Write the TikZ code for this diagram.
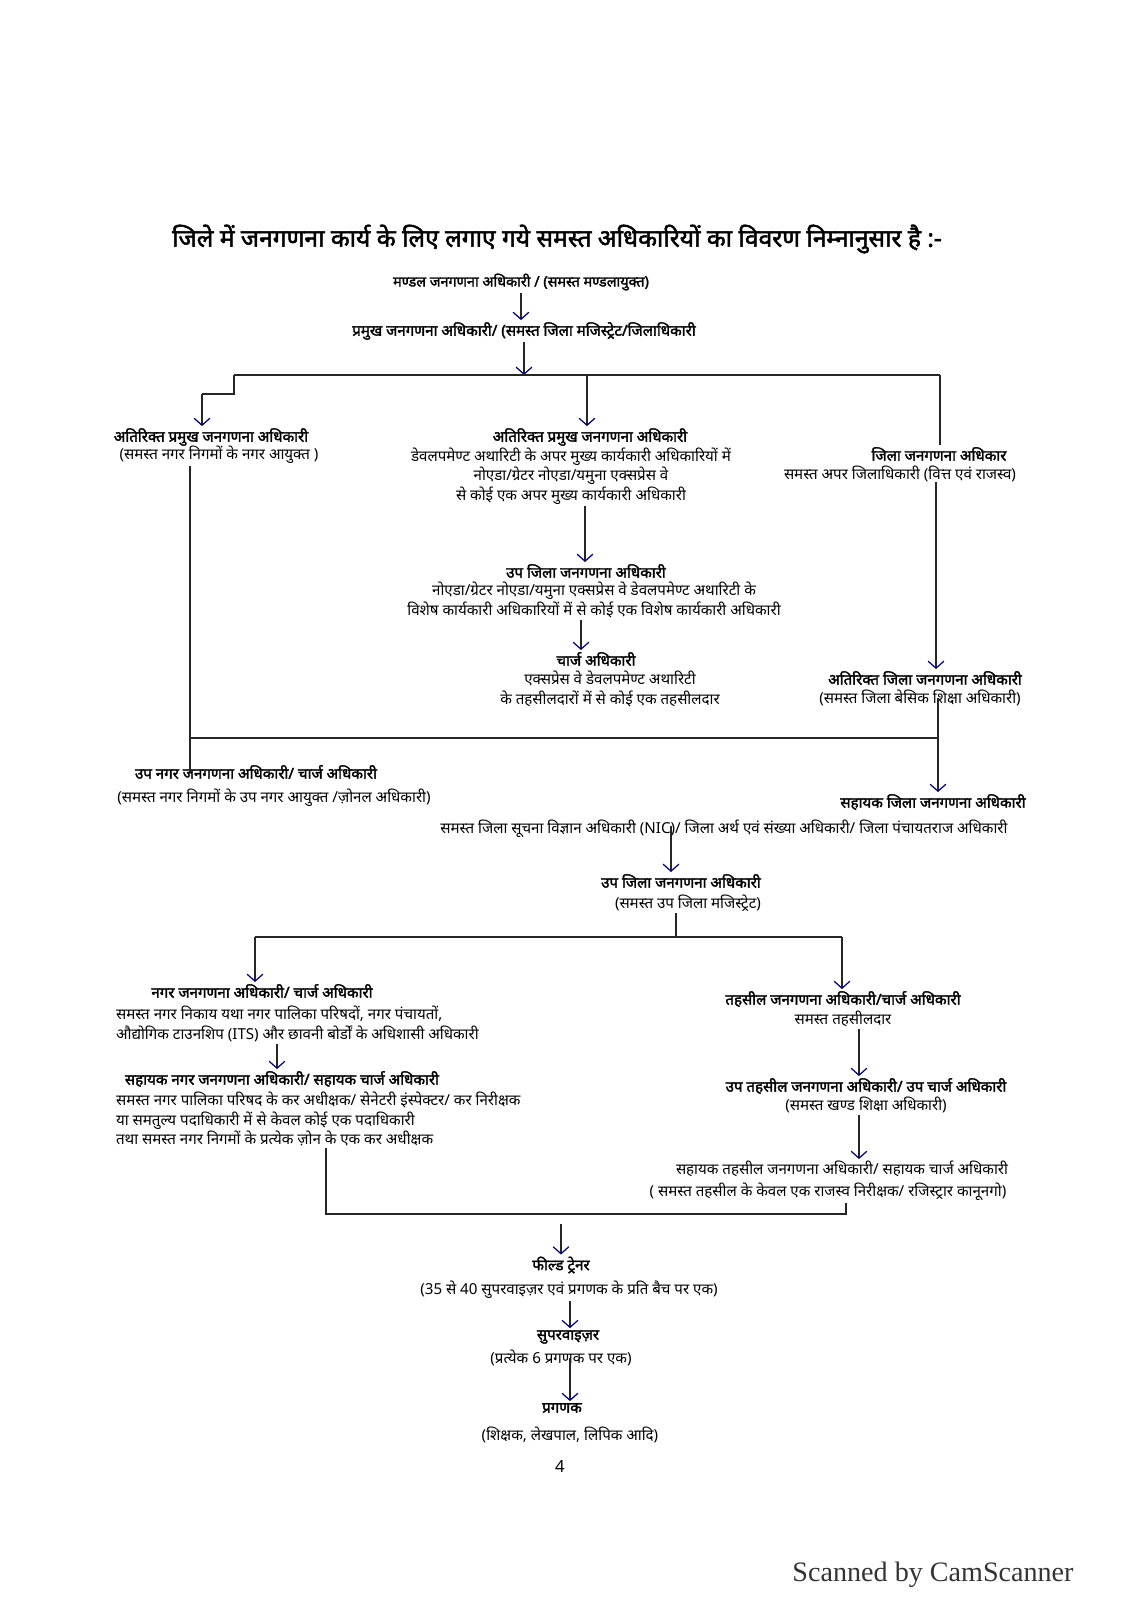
\documentclass[tikz,border=0pt]{standalone}
\usepackage{fontspec}
\setmainfont[Script=Devanagari, AutoFakeBold=2]{Noto Sans}
\newfontfamily\scanfont{Liberation Serif}
\usepackage{tikz}
\usetikzlibrary{arrows,arrows.meta,positioning}
\tikzstyle{head}=[font=\fontsize{8.6}{11}\selectfont\bfseries, inner sep=1pt]
\tikzstyle{desc}=[font=\fontsize{8.6}{11}\selectfont, align=center, inner sep=1pt]
\tikzstyle{link}=[-{Straight Barb[length=4pt,width=9pt,color=blue!45!black]}, line width=0.7pt, black!85]
\tikzstyle{rule}=[line width=0.7pt, black!85]

\begin{document}
\begin{tikzpicture}[x=0.02cm, y=-0.02cm]
    \useasboundingbox (0,0) rectangle (1130,1600);
    % Heading and the two top posts
    \node[font=\fontsize{14}{18}\selectfont\bfseries] (title) at (557,239) {जिले में जनगणना कार्य के लिए लगाए गये समस्त अधिकारियों का विवरण निम्नानुसार है :-};
    \node[head, font=\fontsize{8.2}{11}\selectfont\bfseries] (mandal) at (521,282) {मण्डल जनगणना अधिकारी / (समस्त मण्डलायुक्त)};
    \node[head] (pramukh) at (524,331) {प्रमुख जनगणना अधिकारी/ (समस्त जिला मजिस्ट्रेट/जिलाधिकारी};

    % Three branches
    \node[head] (a) at (211,437) {अतिरिक्त प्रमुख जनगणना अधिकारी};
    \node[desc] (ad) at (219,455) {(समस्त नगर निगमों के नगर आयुक्त )};
    \node[head] (b) at (590,437) {अतिरिक्त प्रमुख जनगणना अधिकारी};
    \node[desc] (bd) at (571,476) {डेवलपमेण्ट अथारिटी के अपर मुख्य कार्यकारी अधिकारियों में\\नोएडा/ग्रेटर नोएडा/यमुना एक्सप्रेस वे\\से कोई एक अपर मुख्य कार्यकारी अधिकारी};
    \node[head] (c) at (939,454) {जिला जनगणना अधिकार};
    \node[desc] (cd) at (900,474) {समस्त अपर जिलाधिकारी (वित्त एवं राजस्व)};

    \node[head] (d) at (586,571) {उप जिला जनगणना अधिकारी};
    \node[desc] (dd) at (594,600) {नोएडा/ग्रेटर नोएडा/यमुना एक्सप्रेस वे डेवलपमेण्ट अथारिटी के\\विशेष कार्यकारी अधिकारियों में से कोई एक विशेष कार्यकारी अधिकारी};
    \node[head] (e) at (596,659) {चार्ज अधिकारी};
    \node[desc] (ed) at (610,689) {एक्सप्रेस वे डेवलपमेण्ट अथारिटी\\के तहसीलदारों में से कोई एक तहसीलदार};
    \node[head] (f) at (925,678) {अतिरिक्त जिला जनगणना अधिकारी};
    \node[desc] (fd) at (920,698) {(समस्त जिला बेसिक शिक्षा अधिकारी)};

    \node[head] (g) at (256,772) {उप नगर जनगणना अधिकारी/ चार्ज अधिकारी};
    \node[desc] (gd) at (274,798) {(समस्त नगर निगमों के उप नगर आयुक्त /ज़ोनल अधिकारी)};
    \node[head] (h) at (933,802) {सहायक जिला जनगणना अधिकारी};
    \node[desc] (hd) at (724,829) {समस्त जिला सूचना विज्ञान अधिकारी (NIC)/ जिला अर्थ एवं संख्या अधिकारी/ जिला पंचायतराज अधिकारी};
    \node[head] (i) at (681,881) {उप जिला जनगणना अधिकारी};
    \node[desc] (id) at (688,903) {(समस्त उप जिला मजिस्ट्रेट)};

    % Town side and tehsil side
    \node[head] (j) at (262,991) {नगर जनगणना अधिकारी/ चार्ज अधिकारी};
    \node[desc, align=left, anchor=west] (jd) at (114,1024) {समस्त नगर निकाय यथा नगर पालिका परिषदों, नगर पंचायतों,\\औद्योगिक टाउनशिप (ITS) और छावनी बोर्डों के अधिशासी अधिकारी};
    \node[head] (k) at (843,999) {तहसील जनगणना अधिकारी/चार्ज अधिकारी};
    \node[desc] (kd) at (843,1019) {समस्त तहसीलदार};
    \node[head] (l) at (282,1079) {सहायक नगर जनगणना अधिकारी/ सहायक चार्ज अधिकारी};
    \node[desc, align=left, anchor=west] (ld) at (114,1119) {समस्त नगर पालिका परिषद के कर अधीक्षक/ सेनेटरी इंस्पेक्टर/ कर निरीक्षक\\या समतुल्य पदाधिकारी में से केवल कोई एक पदाधिकारी\\तथा समस्त नगर निगमों के प्रत्येक ज़ोन के एक कर अधीक्षक};
    \node[head] (m) at (866,1086) {उप तहसील जनगणना अधिकारी/ उप चार्ज अधिकारी};
    \node[desc] (md) at (866,1105) {(समस्त खण्ड शिक्षा अधिकारी)};
    \node[desc] (n) at (842,1169) {सहायक तहसील जनगणना अधिकारी/ सहायक चार्ज अधिकारी};
    \node[desc] (nd) at (828,1192) {( समस्त तहसील के केवल एक राजस्व निरीक्षक/ रजिस्ट्रार कानूनगो)};

    % Field level
    \node[head] (o) at (561,1265) {फील्ड ट्रेनर};
    \node[desc] (od) at (569,1290) {(35 से 40 सुपरवाइज़र एवं प्रगणक के प्रति बैच पर एक)};
    \node[head] (p) at (568,1337) {सुपरवाइज़र};
    \node[desc] (pd) at (561,1358) {(प्रत्येक 6 प्रगणक पर एक)};
    \node[head] (q) at (562,1408) {प्रगणक};
    \node[desc] (qd) at (570,1435) {(शिक्षक, लेखपाल, लिपिक आदि)};
    \node[font=\fontsize{9.5}{11}\selectfont] (page) at (560,1466) {4};
    \node[font=\scanfont\fontsize{16}{18}\selectfont, text=black!80] (scan) at (933,1575) {Scanned by CamScanner};

    % branch points
    \coordinate (top) at (524,375);
    \coordinate (bl) at (234,375);
    \coordinate (br) at (940,375);
    \coordinate (al) at (202,394);
    \coordinate (bm) at (587,375);
    \coordinate (cf) at (936,482);
    \coordinate (lv) at (190,738);
    \coordinate (rv) at (938,738);
    \coordinate (hi) at (671,826);
    \coordinate (sp) at (676,937);
    \coordinate (sl) at (255,937);
    \coordinate (sr) at (842,937);
    \coordinate (ml) at (326,1214);
    \coordinate (mr) at (846,1214);
    \coordinate (mo) at (561,1224);

    \draw[link] (mandal) -- (mandal.south |- pramukh.north);
    \draw[link] (pramukh) -- (top);
    \draw[rule] (bl) -- (br);
    \draw[rule] (bl) |- (al);
    \draw[link] (al) -- (al |- a.north);
    \draw[link] (bm) -- (bm |- b.north);
    \draw[rule] (br) -- (br |- c.north);
    \draw[link] (cf) -- (cf |- f.north);
    \draw[link] (bd.south -| 585,0) -- (d.north -| 585,0);
    \draw[link] (dd.south -| 581,0) -- (e.north -| 581,0);
    \draw[rule] (ad.south -| lv) -- (lv |- g.center);
    \draw[rule] (lv) -- (rv);
    \draw[link] (fd.center -| rv) -- (rv |- h.north);
    \draw[link] (hi) -- (hi |- i.north);
    \draw[rule] (id.south -| sp) -- (sp);
    \draw[rule] (sl) -- (sr);
    \draw[link] (sl) -- (sl |- j.north);
    \draw[link] (sr) -- (sr |- k.north);
    \draw[link] (jd.south -| 277,0) -- (l.north -| 277,0);
    \draw[link] (kd.south -| 859,0) -- (m.north -| 859,0);
    \draw[link] (md.south -| 859,0) -- (n.north -| 859,0);
    \draw[rule] (ld.south -| ml) -- (ml) -- (mr) -- (mr |- nd.south);
    \draw[link] (mo) -- (o.north -| mo);
    \draw[link] (od.south -| 570,0) -- (p.north -| 570,0);
    \draw[link] (pd.center -| 570,0) -- (q.north -| 570,0);
\end{tikzpicture}
\end{document}
